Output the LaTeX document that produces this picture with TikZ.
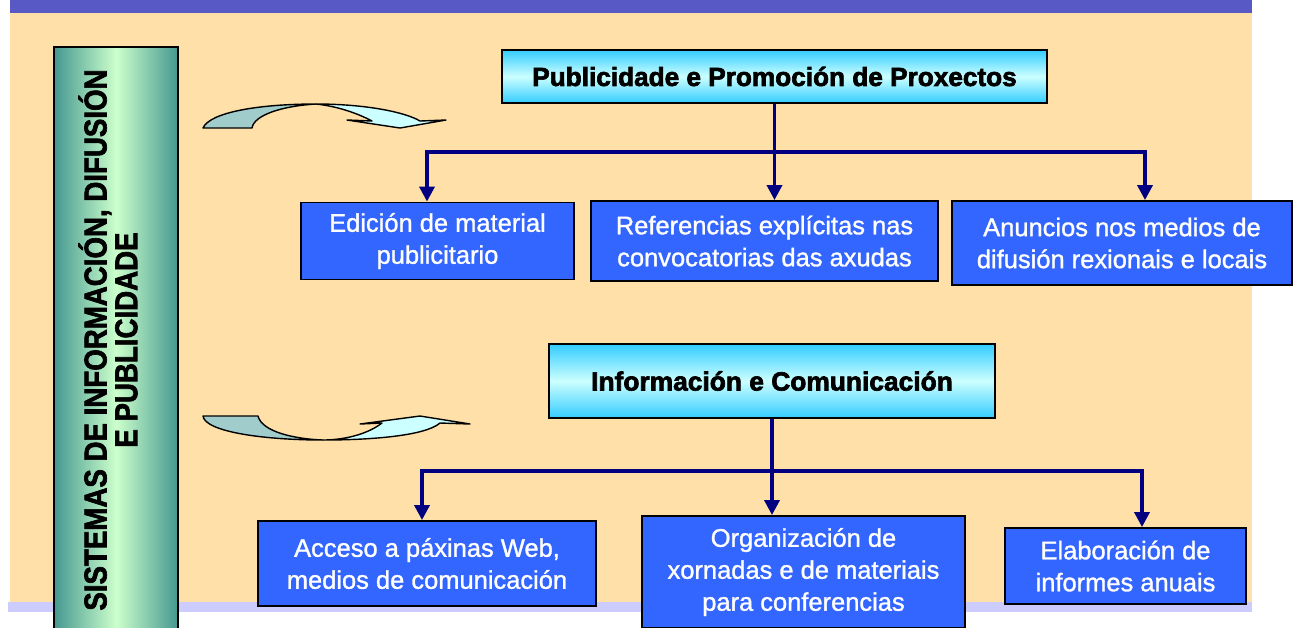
\documentclass[tikz,border=0pt]{standalone}
\usepackage{fontspec}
\setmainfont{Liberation Sans}
\newfontfamily\sidefont{Liberation Sans}[UprightFont={* Bold},FakeStretch=0.875,FakeBold=2]
\newfontfamily\headfont{Liberation Sans}[UprightFont={* Bold},FakeBold=2.5]
\newfontfamily\boxfont{Liberation Sans}[FakeBold=1.2]
\usepackage{tikz}
\usetikzlibrary{arrows.meta,positioning}
\definecolor{beige}{HTML}{FFE0A8}
\definecolor{topbar}{HTML}{5959C6}
\definecolor{lavender}{HTML}{CCCCFF}
\definecolor{boxblue}{HTML}{3366FF}
\definecolor{linknavy}{HTML}{000080}
\definecolor{sideteal}{HTML}{459890}
\definecolor{sidelight}{HTML}{CCFFCC}
\definecolor{headcyan}{HTML}{33CCFF}
\definecolor{headlight}{HTML}{CCFFFF}
\definecolor{curvedark}{HTML}{A0CCCC}
\definecolor{curvelight}{HTML}{CCFFFF}

\begin{document}
\begin{tikzpicture}[x=0.02cm,y=-0.02cm,
    headbox/.style={draw=black,line width=1.1pt,top color=headcyan,bottom color=headcyan,
      middle color=headlight,inner sep=0pt,font=\headfont},
    bluebox/.style={draw=black,line width=1.1pt,fill=boxblue,text=white,align=center,
      inner sep=0pt,font=\boxfont\fontsize{14.5}{18.2}\selectfont},
    link/.style={draw=linknavy,line width=2pt,line join=miter},
    arr/.style={link,-{Triangle[width=0.3cm,length=0.3cm]}},
    arrtwo/.style={link,{Triangle[width=0.3cm,length=0.3cm]}-{Triangle[width=0.3cm,length=0.3cm]}},
    curve/.style={draw=black,line width=0.8pt,line join=round}]
  \useasboundingbox (0,0) rectangle (1293,627);

  % slide background
  \fill[white] (0,0) rectangle (1293,627);
  \fill[beige] (10,13) rectangle (1252,602);
  \fill[lavender] (8,602) rectangle (1252,612);
  \fill[topbar] (10,0) rectangle (1252,13);

  % side title
  \node[draw=black,line width=1.1pt,left color=sideteal,right color=sideteal,
    middle color=sidelight,minimum width=2.48cm,minimum height=11.86cm,inner sep=0pt]
    (side) at (116,343.5) {};
  \node[rotate=90,align=center,inner sep=0pt,font=\sidefont\fontsize{18}{17.5}\selectfont]
    (sidetext) at (108,340) {SISTEMAS DE INFORMACIÓN, DIFUSIÓN\\E PUBLICIDADE};

  % curved arrows
  \coordinate (ca) at (316,104);
  \fill[curvedark,curve] (203,128) .. controls (210,112) and (260,104) .. (ca)
    .. controls (282,106) and (254,115) .. (252,128) -- cycle;
  \fill[curvelight,curve] (ca) .. controls (365,104) and (405,112) .. (420,121)
    -- (446,120) -- (400,128) -- (347,120) -- (372,121)
    .. controls (355,112) and (335,106) .. (ca) -- cycle;

  \coordinate (cb) at (323,440);
  \fill[curvedark,curve] (203,416) -- (258,416) .. controls (262,432) and (295,439) .. (cb)
    .. controls (265,440) and (205,432) .. (203,416) -- cycle;
  \fill[curvelight,curve] (cb) .. controls (370,440) and (425,436) .. (440,423)
    -- (470,424) -- (420,416) -- (360,424) -- (382,423)
    .. controls (365,436) and (340,440) .. (cb) -- cycle;

  % first group
  \node[headbox,minimum width=10.9cm,minimum height=1.06cm,font=\headfont\fontsize{14.9}{17}\selectfont]
    (pub) at (774.5,76.5) {Publicidade e Promoción de Proxectos};
  \node[bluebox,minimum width=5.46cm,minimum height=1.54cm] (ed) at (437.5,241)
    {Edición de material\\publicitario};
  \node[bluebox,minimum width=6.94cm,minimum height=1.6cm] (ref) at (764.5,241)
    {Referencias explícitas nas\\convocatorias das axudas};
  \node[bluebox,minimum width=6.8cm,minimum height=1.68cm] (anu) at (1122,243)
    {Anuncios nos medios de\\difusión rexionais e locais};

  \coordinate (busa) at (427,152);
  \coordinate (busc) at (1145,152);
  \draw[arrtwo] (busa |- ed.north) -- (busa) -- (busc) -- (busc |- anu.north);
  \draw[arr] (pub.south) -- (pub.south |- ref.north);

  % second group
  \node[headbox,minimum width=8.92cm,minimum height=1.48cm,font=\headfont\fontsize{15}{18}\selectfont]
    (info) at (772,381) {Información e Comunicación};
  \node[bluebox,minimum width=6.76cm,minimum height=1.7cm] (acc) at (427,563.5)
    {Acceso a páxinas Web,\\medios de comunicación};
  \node[bluebox,minimum width=6.46cm,minimum height=2.24cm] (org) at (803.5,572)
    {Organización de\\xornadas e de materiais\\para conferencias};
  \node[bluebox,minimum width=4.82cm,minimum height=1.52cm] (ela) at (1125.5,566)
    {Elaboración de\\informes anuais};

  \coordinate (busd) at (422,471);
  \coordinate (busf) at (1142,471);
  \draw[arrtwo] (busd |- acc.north) -- (busd) -- (busf) -- (busf |- ela.north);
  \draw[arr] (info.south) -- (info.south |- org.north);
\end{tikzpicture}
\end{document}
